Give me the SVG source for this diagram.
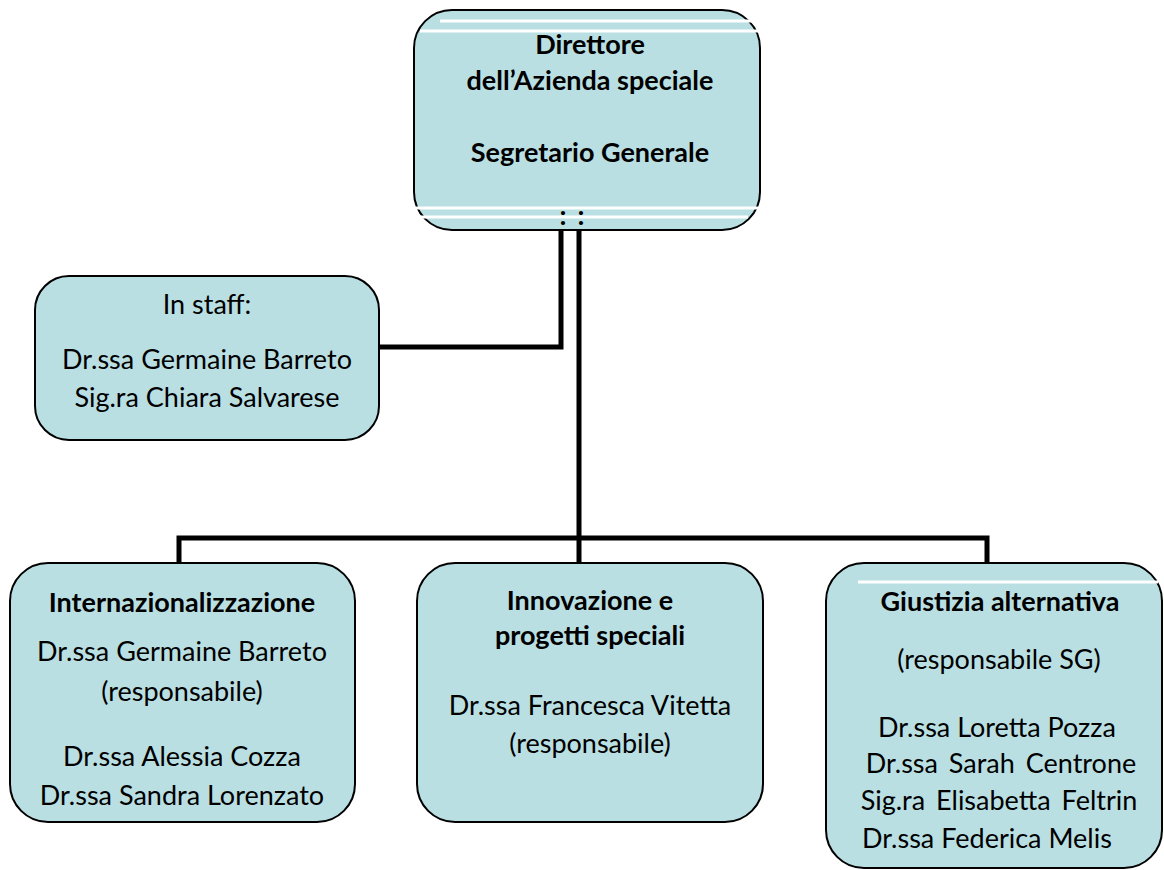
<svg xmlns="http://www.w3.org/2000/svg" width="1164" height="870" viewBox="0 0 1164 870">
<style>
.box{fill:#b9dfe3;stroke:#000;stroke-width:2}
.stripe{stroke:#fff;stroke-width:3}
.t{font-family:Lato,"Liberation Sans",sans-serif;font-size:27px;fill:#000;text-anchor:middle}
.b{font-weight:bold;font-size:27px}
.ws{word-spacing:4px}
.conn{fill:none;stroke:#000;stroke-width:5;stroke-linejoin:miter}
</style>
<rect width="1164" height="870" fill="#fff"/>
<g id="connectors">
<path class="conn" d="M378,347 H561 V229"/>
<path class="conn" d="M579,229 V538"/>
<path class="conn" d="M179,563 V538 H987 V563"/>
<path class="conn" d="M579,538 V563"/>
</g>
<g id="director">
<rect class="box" x="414" y="10" width="346" height="220" rx="38"/>
<line class="stripe" x1="440" y1="21" x2="756" y2="21"/>
<line class="stripe" x1="420" y1="31" x2="759" y2="31"/>
<line class="stripe" x1="415" y1="208" x2="759" y2="208"/>
<line class="stripe" x1="416" y1="217" x2="748" y2="217"/>
<text class="t b" x="590" y="54">Direttore</text>
<text class="t b" x="590" y="90">dell’Azienda speciale</text>
<text class="t b" x="590" y="162">Segretario Generale</text>
<text class="t b" x="563" y="225">:</text>
<text class="t b" x="581" y="225">:</text>
</g>
<g id="staff">
<rect class="box" x="35" y="276" width="344" height="164" rx="34"/>
<text class="t" x="207" y="314">In staff:</text>
<text class="t" x="207" y="369">Dr.ssa Germaine Barreto</text>
<text class="t" x="207" y="407">Sig.ra Chiara Salvarese</text>
</g>
<g id="internazionalizzazione">
<rect class="box" x="10" y="563" width="345" height="259" rx="38"/>
<text class="t b" x="182" y="612">Internazionalizzazione</text>
<text class="t" x="182" y="661">Dr.ssa Germaine Barreto</text>
<text class="t" x="182" y="701">(responsabile)</text>
<text class="t" x="182" y="766">Dr.ssa Alessia Cozza</text>
<text class="t" x="182" y="805">Dr.ssa Sandra Lorenzato</text>
</g>
<g id="innovazione">
<rect class="box" x="417" y="563" width="346" height="259" rx="38"/>
<text class="t b" x="590" y="610">Innovazione e</text>
<text class="t b" x="590" y="645">progetti speciali</text>
<text class="t" x="590" y="715">Dr.ssa Francesca Vitetta</text>
<text class="t" x="590" y="753">(responsabile)</text>
</g>
<g id="giustizia">
<rect class="box" x="826" y="563" width="336" height="305" rx="38"/>
<line class="stripe" x1="858" y1="582" x2="1158" y2="582"/>
<text class="t b" x="1000" y="611">Giustizia alternativa</text>
<text class="t" x="999" y="669">(responsabile SG)</text>
<text class="t" x="997" y="737">Dr.ssa Loretta Pozza</text>
<text class="t ws" x="1001" y="773">Dr.ssa Sarah Centrone</text>
<text class="t ws" x="999" y="810">Sig.ra Elisabetta Feltrin</text>
<text class="t" x="987" y="848">Dr.ssa Federica Melis</text>
</g>
</svg>
